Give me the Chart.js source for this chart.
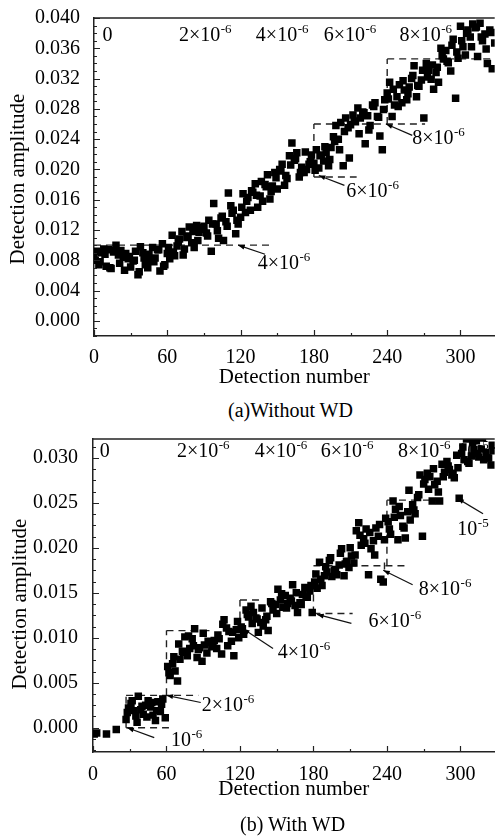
<!DOCTYPE html>
<html>
<head>
<meta charset="utf-8">
<script src="https://cdn.jsdelivr.net/npm/chart.js@4.4.1/dist/chart.umd.min.js"></script>
<style>
  body { margin:0; background:#fff; width:500px; height:839px; position:relative; overflow:hidden; font-family:"Liberation Serif", "Times New Roman", serif; }
  canvas { position:absolute; left:0; }
  #chart-a { top:0; }
  #chart-b { top:420px; }
  .cap { position:absolute; font-size:20px; line-height:20px; color:#000; white-space:nowrap; }
</style>
</head>
<body>
<canvas id="chart-a" width="500" height="395"></canvas>
<div class="cap" style="top:400px; left:228px">(a)Without WD</div>
<canvas id="chart-b" width="500" height="395"></canvas>
<div class="cap" style="top:814px; left:240px">(b) With WD</div>

<script>
// ---- tick values ----
const xTicks  = [0, 60, 120, 180, 240, 300];
const yTicksA = [0, 0.004, 0.008, 0.012, 0.016, 0.020, 0.024, 0.028, 0.032, 0.036, 0.040];
const yTicksB = [0, 0.005, 0.010, 0.015, 0.020, 0.025, 0.030];

// ---- (a) without WD: amplitude on even detections, one block per strain step ----
const ampA_s0 = [ // detections 0-58
  .0086,.0092,.0074,.0090,.0095,.0072,.0094,.0069,.0091,.0100,
  .0087,.0093,.0084,.0089,.0082,.0071,.0079,.0092,.0061,.0098,
  .0090,.0074,.0070,.0079,.0097,.0083,.0094,.0066,.0102,.0074];
const ampA_s1 = [ // 60-118
  .0089,.0082,.0113,.0086,.0099,.0108,.0118,.0095,.0110,.0124,
  .0103,.0097,.0126,.0117,.0121,.0125,.0116,.0133,.0092,.0155,
  .0128,.0109,.0136,.0106,.0131,.0169,.0152,.0146,.0115,.0128];
const ampA_s2 = [ // 120-178
  .0137,.0168,.0143,.0163,.0146,.0170,.0181,.0150,.0165,.0158,
  .0180,.0193,.0161,.0178,.0196,.0174,.0200,.0207,.0179,.0188,
  .0218,.0235,.0212,.0222,.0190,.0203,.0196,.0200,.0207,.0219];
const ampA_s3 = [ // 180-238
  .0208,.0226,.0202,.0219,.0211,.0222,.0205,.0229,.0243,.0258,
  .0240,.0262,.0205,.0268,.0255,.0259,.0272,.0263,.0281,.0268,
  .0276,.0234,.0271,.0258,.0285,.0288,.0270,.0244,.0226,.0292];
const ampA_s4 = [ // 240-298
  .0301,.0315,.0270,.0285,.0296,.0312,.0288,.0305,.0292,.0309,
  .0320,.0337,.0296,.0310,.0318,.0268,.0340,.0331,.0319,.0306,
  .0328,.0315,.0360,.0346,.0357,.0341,.0330,.0372,.0294,.0347];
const ampA_s5 = [ // 300-328
  .0389,.0362,.0351,.0384,.0375,.0392,.0387,.0349,.0393,.0370,
  .0379,.0340,.0384,.0333,.0367];
// odd detections 1, 5, 9 ... 325
const ampA_odd = [
  .0080,.0078,.0088,.0070,.0093,.0076,.0067,.0085,.0080,.0065,
  .0083,.0088,.0078,.0094,.0072,.0097,.0091,.0104,.0087,.0112,
  .0118,.0106,.0123,.0112,.0128,.0119,.0138,.0125,.0142,.0133,
  .0150,.0158,.0172,.0166,.0184,.0177,.0171,.0189,.0198,.0192,
  .0206,.0214,.0196,.0223,.0210,.0199,.0218,.0230,.0213,.0237,
  .0226,.0250,.0215,.0264,.0247,.0275,.0252,.0283,.0269,.0279,
  .0293,.0306,.0283,.0317,.0300,.0324,.0311,.0331,.0322,.0338,
  .0335,.0350,.0343,.0364,.0355,.0370,.0380,.0362,.0388,.0375,
  .0359,.0381];

// ---- (b) with WD ----
const detB_s0 = [1, 3, 11, 19];
const ampB_s0 = [-.0007, -.0006, -.0007, -.0002];
const ampB_s1 = [ // 27-59
  .0009,.0022,.0027,.0019,.0013,.0035,.0020,.0015,.0025,.0030,
  .0023,.0014,.0008,.0029,.0018,.0032,.0011];
const ampB_s1x = [ // 28, 32 ... 56
  .0017,.0030,.0006,.0024,.0012,.0028,.0019,.0026];
const ampB_s2 = [ // 61-119
  .0068,.0058,.0071,.0063,.0052,.0076,.0085,.0101,.0080,.0088,
  .0099,.0110,.0078,.0089,.0074,.0092,.0083,.0095,.0090,.0097,
  .0088,.0099,.0082,.0120,.0111,.0107,.0096,.0080,.0109,.0100];
const ampB_s3 = [ // 121-179
  .0112,.0104,.0131,.0123,.0135,.0128,.0122,.0106,.0117,.0113,
  .0120,.0108,.0140,.0131,.0137,.0154,.0142,.0134,.0147,.0138,
  .0144,.0159,.0136,.0128,.0139,.0148,.0156,.0145,.0152,.0128];
const ampB_s4 = [ // 181-239
  .0162,.0155,.0184,.0158,.0169,.0173,.0186,.0168,.0175,.0170,
  .0181,.0199,.0169,.0185,.0178,.0191,.0183,.0219,.0228,.0203,
  .0210,.0221,.0170,.0199,.0208,.0222,.0213,.0165,.0162,.0233];
const ampB_s5 = [ // 241-299
  .0229,.0215,.0252,.0243,.0209,.0236,.0224,.0211,.0240,.0231,
  .0248,.0238,.0256,.0281,.0213,.0276,.0283,.0279,.0252,.0270,
  .0274,.0252,.0293,.0284,.0296,.0287,.0281,.0278,.0303,.0255];
const ampB_s6 = [ // 301-327
  .0305,.0298,.0321,.0294,.0302,.0309,.0319,.0301,.0310,.0298,
  .0306,.0300,.0292,.0308];
const ampB_even = [ // 62, 66 ... 326
  .0061,.0079,.0093,.0084,.0102,.0091,.0087,.0105,.0096,.0093,
  .0103,.0115,.0091,.0106,.0118,.0110,.0126,.0116,.0121,.0133,
  .0124,.0138,.0127,.0149,.0133,.0141,.0150,.0137,.0145,.0158,
  .0171,.0165,.0179,.0189,.0176,.0194,.0182,.0200,.0192,.0214,
  .0205,.0217,.0192,.0226,.0209,.0221,.0234,.0246,.0222,.0264,
  .0242,.0259,.0271,.0265,.0288,.0262,.0279,.0291,.0283,.0289,
  .0312,.0296,.0317,.0305,.0322,.0300,.0314];

const FONT = { family: "'Liberation Serif', 'Times New Roman', serif", size: 20 };
const INK = '#000';
const AXIS = '#222';

function serie(start, step, vals) {
  return vals.map((v, i) => ({ x: start + i * step, y: v }));
}

function drawSci(ctx, x, y, base, sup) {
  ctx.font = "20px 'Liberation Serif', serif";
  ctx.fillText(base, x, y);
  if (!sup) return;
  const w = ctx.measureText(base).width;
  ctx.font = "13px 'Liberation Serif', serif";
  ctx.fillText(sup, x + w + 0.5, y - 8);
}

// dashed guides, strain labels and leaders under the points; frame, inner ticks and y title on top
function framePlugin(cfg) {
  return {
    id: 'frame',
    beforeDatasetsDraw(chart) {
      const { ctx, chartArea: a, scales: { x, y } } = chart;
      ctx.save();
      ctx.beginPath();
      ctx.rect(a.left, a.top, a.right - a.left, a.bottom - a.top);
      ctx.clip();

      ctx.strokeStyle = '#222';
      ctx.lineWidth = 1.4;
      ctx.setLineDash([7, 5]);
      cfg.dashes.forEach(([x1, y1, x2, y2]) => {
        ctx.beginPath();
        ctx.moveTo(x.getPixelForValue(x1), y.getPixelForValue(y1));
        ctx.lineTo(x.getPixelForValue(x2), y.getPixelForValue(y2));
        ctx.stroke();
      });
      ctx.setLineDash([]);

      ctx.fillStyle = INK;
      ctx.textAlign = 'left';
      ctx.textBaseline = 'alphabetic';
      cfg.labels.forEach(l => drawSci(ctx, x.getPixelForValue(l.x), y.getPixelForValue(l.y), l.base, l.sup));

      ctx.strokeStyle = '#111';
      ctx.lineWidth = 1.2;
      cfg.leaders.forEach(([x1, y1, x2, y2]) => {
        const px1 = x.getPixelForValue(x1), py1 = y.getPixelForValue(y1);
        const px2 = x.getPixelForValue(x2), py2 = y.getPixelForValue(y2);
        ctx.beginPath();
        ctx.moveTo(px1, py1);
        ctx.lineTo(px2, py2);
        ctx.stroke();
        const ang = Math.atan2(py1 - py2, px1 - px2);
        ctx.beginPath();
        ctx.moveTo(px1, py1);
        ctx.lineTo(px1 - 7 * Math.cos(ang - 0.35), py1 - 7 * Math.sin(ang - 0.35));
        ctx.lineTo(px1 - 7 * Math.cos(ang + 0.35), py1 - 7 * Math.sin(ang + 0.35));
        ctx.closePath();
        ctx.fill();
      });
      ctx.restore();
    },
    afterDraw(chart) {
      const { ctx, chartArea: a, scales: { x, y } } = chart;
      ctx.save();
      ctx.strokeStyle = AXIS;
      ctx.lineWidth = 1.5;
      ctx.beginPath();
      ctx.moveTo(a.left, a.top);
      ctx.lineTo(a.right, a.top);
      ctx.stroke();

      ctx.lineWidth = 1.2;
      ctx.beginPath();
      for (let v = 0; v <= x.max; v += cfg.xMinor) {
        const len = v % 60 === 0 ? 6 : 3;
        const px = Math.round(x.getPixelForValue(v)) + 0.5;
        ctx.moveTo(px, a.bottom);
        ctx.lineTo(px, a.bottom - len);
      }
      const n = Math.round((y.max - y.min) / cfg.yMinor) + 2;
      for (let k = -4; k < n; k++) {
        const v = k * cfg.yMinor;
        if (v < y.min || v > y.max) continue;
        const len = k % cfg.yPerMajor === 0 ? 6 : 3;
        const py = Math.round(y.getPixelForValue(v)) + 0.5;
        ctx.moveTo(a.left, py);
        ctx.lineTo(a.left + len, py);
      }
      ctx.stroke();

      // y axis title
      ctx.translate(cfg.yTitleX, (a.top + a.bottom) / 2 + cfg.yTitleShift);
      ctx.rotate(-Math.PI / 2);
      ctx.fillStyle = INK;
      ctx.font = "21px 'Liberation Serif', serif";
      ctx.textAlign = 'center';
      ctx.textBaseline = 'middle';
      ctx.fillText('Detection amplitude', 0, 0);
      ctx.restore();
    }
  };
}

function makeChart(id, datos, opts) {
  const ctx = document.getElementById(id).getContext('2d');
  return new Chart(ctx, {
    type: 'scatter',
    data: {
      datasets: [{
        data: datos,
        pointStyle: 'rect',
        pointRadius: 5.3,
        pointHoverRadius: 5.3,
        backgroundColor: INK,
        borderWidth: 0
      }]
    },
    options: {
      responsive: false,
      animation: false,
      devicePixelRatio: 1,
      layout: { padding: { top: opts.top, right: 0, bottom: 0, left: 0 } },
      plugins: { legend: { display: false }, tooltip: { enabled: false } },
      scales: {
        x: {
          type: 'linear', min: 0, max: 328,
          afterBuildTicks: s => { s.ticks = xTicks.map(v => ({ value: v })); },
          afterFit: s => { s.height = opts.xHeight; },
          grid: { display: false },
          border: { color: AXIS, width: 1.5 },
          ticks: { font: FONT, color: INK, padding: opts.xPad, autoSkip: false, maxRotation: 0 },
          title: { display: true, text: 'Detection number', font: { ...FONT, size: 21 }, color: INK, padding: { top: 0, bottom: opts.xTitlePad } }
        },
        y: {
          type: 'linear', min: opts.yMin, max: opts.yMax,
          afterBuildTicks: s => { s.ticks = opts.yTicks.map(v => ({ value: v })); },
          afterFit: s => { s.width = opts.left; },
          grid: { display: false },
          border: { color: AXIS, width: 1.5 },
          ticks: { font: FONT, color: INK, padding: opts.yPad, callback: v => v.toFixed(3) },
          title: { display: false }
        }
      }
    },
    plugins: [framePlugin(opts.frame)]
  });
}

const pontosA = [
  ...serie(0, 2, ampA_s0), ...serie(60, 2, ampA_s1), ...serie(120, 2, ampA_s2),
  ...serie(180, 2, ampA_s3), ...serie(240, 2, ampA_s4), ...serie(300, 2, ampA_s5),
  ...serie(1, 4, ampA_odd)
];
const pontosB = [
  ...detB_s0.map((d, i) => ({ x: d, y: ampB_s0[i] })),
  ...serie(27, 2, ampB_s1), ...serie(28, 4, ampB_s1x),
  ...serie(61, 2, ampB_s2), ...serie(121, 2, ampB_s3),
  ...serie(181, 2, ampB_s4), ...serie(241, 2, ampB_s5), ...serie(301, 2, ampB_s6),
  ...serie(62, 4, ampB_even)
];

makeChart('chart-a', pontosA, {
  top: 17, left: 94, xHeight: 59, xPad: 2, xTitlePad: 5, yPad: 6,
  yMin: -0.002, yMax: 0.040, yTicks: yTicksA,
  frame: {
    xMinor: 30, yMinor: 0.001, yPerMajor: 4, yTitleX: 18.5, yTitleShift: 2,
    dashes: [
      [0, 0.0100, 144, 0.0100],
      [180, 0.0190, 215, 0.0190], [180, 0.0190, 180, 0.0260],
      [180, 0.0260, 271, 0.0260], [240, 0.0260, 240, 0.0346],
      [240, 0.0346, 330, 0.0346]
    ],
    labels: [
      { x: 7, y: 0.0369, base: '0', sup: '' },
      { x: 69.5, y: 0.0369, base: '2×10', sup: '-6' },
      { x: 132.5, y: 0.0369, base: '4×10', sup: '-6' },
      { x: 188, y: 0.0369, base: '6×10', sup: '-6' },
      { x: 250, y: 0.0369, base: '8×10', sup: '-6' },
      { x: 134, y: 0.0069, base: '4×10', sup: '-6' },
      { x: 206.5, y: 0.0164, base: '6×10', sup: '-6' },
      { x: 260.5, y: 0.0234, base: '8×10', sup: '-6' }
    ],
    leaders: [
      [118, 0.0100, 140, 0.0088],
      [184, 0.0192, 205, 0.0179],
      [239, 0.0260, 260.5, 0.0245]
    ]
  }
});

makeChart('chart-b', pontosB, {
  top: 15, left: 93, xHeight: 63, xPad: 3, xTitlePad: 13, yPad: 7,
  yMin: -0.0027, yMax: 0.0321, yTicks: yTicksB,
  frame: {
    xMinor: 30, yMinor: 0.00125, yPerMajor: 4, yTitleX: 20, yTitleShift: 8.5,
    dashes: [
      [27, 0.0000, 62, 0.0000], [27, 0.0000, 27, 0.0036], [27, 0.0036, 86, 0.0036],
      [60, 0.0036, 60, 0.0108], [60, 0.0108, 97, 0.0108],
      [120, 0.0108, 120, 0.0142], [120, 0.0142, 138, 0.0142],
      [180, 0.0127, 212, 0.0127], [180, 0.0127, 180, 0.0180],
      [180, 0.0180, 256, 0.0180], [238, 0.0176, 238, 0.0186],
      [240, 0.0180, 240, 0.0253], [240, 0.0253, 288, 0.0253]
    ],
    labels: [
      { x: 5.6, y: 0.0301, base: '0', sup: '' },
      { x: 68.5, y: 0.0301, base: '2×10', sup: '-6' },
      { x: 132, y: 0.0301, base: '4×10', sup: '-6' },
      { x: 186, y: 0.0301, base: '6×10', sup: '-6' },
      { x: 249, y: 0.0301, base: '8×10', sup: '-6' },
      { x: 297.5, y: 0.0301, base: '10', sup: '-5' },
      { x: 63.7, y: -0.0020, base: '10', sup: '-6' },
      { x: 88.7, y: 0.0019, base: '2×10', sup: '-6' },
      { x: 150.8, y: 0.0078, base: '4×10', sup: '-6' },
      { x: 225, y: 0.0112, base: '6×10', sup: '-6' },
      { x: 266, y: 0.0148, base: '8×10', sup: '-6' },
      { x: 297.5, y: 0.0214, base: '10', sup: '-5' }
    ],
    leaders: [
      [28, 0.0000, 50, -0.0011],
      [60, 0.0036, 88, 0.0028],
      [122.5, 0.0110, 147, 0.0088],
      [183, 0.0126, 211, 0.0116],
      [237, 0.0175, 261, 0.0159],
      [297.5, 0.0255, 318.5, 0.0238]
    ]
  }
});
</script>
</body>
</html>
